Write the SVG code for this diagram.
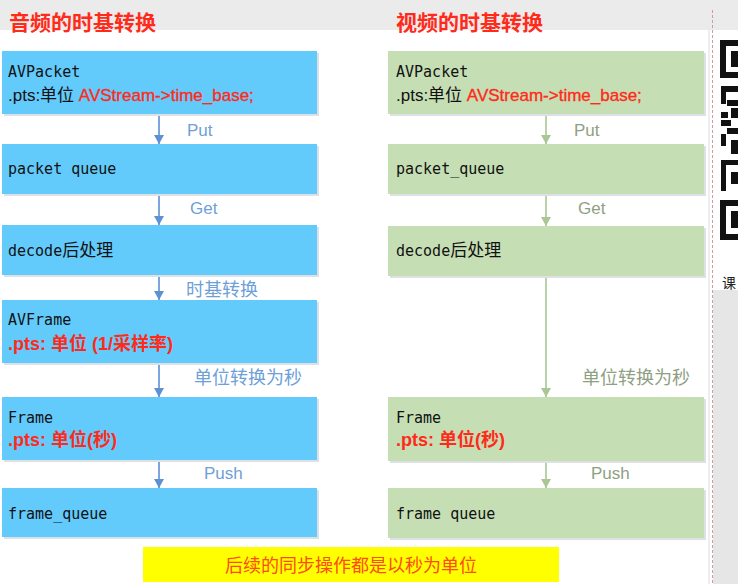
<svg xmlns="http://www.w3.org/2000/svg" width="738" height="584" viewBox="0 0 738 584">
<defs>
<style>
.bg{fill:#ebebeb}
.bb{fill:#62cbfc}
.gb{fill:#c5deb4}
.sh{fill:#dde1e5}
.mono{font-family:"DejaVu Sans Mono","Liberation Mono","Noto Sans CJK SC",monospace;font-size:15px;fill:#111}
.sans{font-family:"Liberation Sans","Noto Sans CJK SC",sans-serif;font-size:17px;fill:#111}
.red{fill:#ff2a1a}
.rb{font-family:"Liberation Sans","Noto Sans CJK SC",sans-serif;font-size:18px;font-weight:bold;fill:#ff2a1a}
.title{font-family:"Liberation Sans","Noto Sans CJK SC",sans-serif;font-size:21px;font-weight:bold;fill:#ff2a1a}
.lb{font-family:"Liberation Sans","Noto Sans CJK SC",sans-serif;font-size:17px;fill:#6e9fd8}
.lg{font-family:"Liberation Sans","Noto Sans CJK SC",sans-serif;font-size:17px;fill:#8f9f84}
.cj{font-size:18px}
.ab{stroke:#5e90d4;stroke-width:1.6;fill:none}
.ag{stroke:#a8c794;stroke-width:1.6;fill:none}
.qr{fill:#111}
</style>
<marker id="mb" markerWidth="10" markerHeight="10" refX="9" refY="5" orient="auto" markerUnits="userSpaceOnUse" viewBox="0 0 10 10">
<path d="M0,0 L9,5 L0,10 Z" fill="#5e90d4"/>
</marker>
<marker id="mg" markerWidth="10" markerHeight="10" refX="9" refY="5" orient="auto" markerUnits="userSpaceOnUse" viewBox="0 0 10 10">
<path d="M0,0 L9,5 L0,10 Z" fill="#a8c794"/>
</marker>
</defs>

<!-- screenshot background -->
<rect x="0" y="0" width="738" height="584" fill="#ffffff"/>
<rect class="bg" x="0" y="0" width="738" height="30"/>
<line x1="709" y1="30" x2="709" y2="584" stroke="#dcdcdc" stroke-width="1"/>
<rect x="713" y="290" width="25" height="294" fill="#e6e6e6"/>
<line x1="712.5" y1="10" x2="712.5" y2="584" stroke="#d29aa0" stroke-width="1" stroke-dasharray="3 2"/>

<!-- QR fragment -->
<g id="qr">
<rect class="qr" x="720" y="40" width="18" height="6"/>
<rect class="qr" x="720" y="40" width="6" height="38"/>
<rect class="qr" x="720" y="72" width="18" height="6"/>
<rect class="qr" x="731" y="51" width="7" height="16"/>
<rect class="qr" x="721" y="86" width="17" height="6"/>
<rect class="qr" x="721" y="92" width="5" height="12"/>
<rect class="qr" x="727" y="100" width="11" height="6"/>
<rect class="qr" x="731" y="108" width="7" height="10"/>
<rect class="qr" x="721" y="112" width="7" height="6"/>
<rect class="qr" x="721" y="120" width="10" height="6"/>
<rect class="qr" x="727" y="128" width="11" height="6"/>
<rect class="qr" x="721" y="134" width="5" height="12"/>
<rect class="qr" x="731" y="140" width="7" height="14"/>
<rect class="qr" x="721" y="160" width="17" height="5"/>
<rect class="qr" x="721" y="165" width="5" height="26"/>
<rect class="qr" x="731" y="172" width="7" height="12"/>
<rect class="qr" x="720" y="200" width="18" height="6"/>
<rect class="qr" x="720" y="200" width="6" height="40"/>
<rect class="qr" x="720" y="234" width="18" height="6"/>
<rect class="qr" x="731" y="211" width="7" height="17"/>
<text x="722" y="288" font-family="'Noto Sans CJK SC',sans-serif" font-size="14" fill="#222">课</text>
</g>

<!-- titles -->
<text class="title" x="9" y="30">音频的时基转换</text>
<text class="title" x="396" y="30">视频的时基转换</text>

<!-- connectors -->
<g id="connectors">
<line class="ab" x1="159" y1="114" x2="159" y2="144" marker-end="url(#mb)"/>
<line class="ab" x1="159" y1="194" x2="159" y2="225" marker-end="url(#mb)"/>
<line class="ab" x1="159" y1="275" x2="159" y2="300" marker-end="url(#mb)"/>
<line class="ab" x1="159" y1="363" x2="159" y2="397" marker-end="url(#mb)"/>
<line class="ab" x1="159" y1="460" x2="159" y2="488" marker-end="url(#mb)"/>
<line class="ag" x1="546" y1="114" x2="546" y2="144" marker-end="url(#mg)"/>
<line class="ag" x1="546" y1="194" x2="546" y2="226" marker-end="url(#mg)"/>
<line class="ag" x1="546" y1="276" x2="546" y2="397" marker-end="url(#mg)"/>
<line class="ag" x1="546" y1="461" x2="546" y2="488" marker-end="url(#mg)"/>
<text class="lb" x="187" y="136">Put</text>
<text class="lb" x="190" y="214">Get</text>
<text class="lb cj" x="186" y="296">时基转换</text>
<text class="lb cj" x="194" y="384">单位转换为秒</text>
<text class="lb" x="204" y="479">Push</text>
<text class="lg" x="574" y="136">Put</text>
<text class="lg" x="578" y="214">Get</text>
<text class="lg cj" x="582" y="384">单位转换为秒</text>
<text class="lg" x="591" y="479">Push</text>
</g>

<!-- audio column -->
<g id="a_avpacket">
<rect class="sh" x="4" y="53" width="315" height="63"/>
<rect class="bb" x="2" y="51" width="315" height="63"/>
<text class="mono" x="8" y="77">AVPacket</text>
<text class="sans" x="8" y="101">.pts:单位 <tspan class="red" stroke="#ff2a1a" stroke-width="0.35">AVStream-&gt;time_base;</tspan></text>
</g>
<g id="a_packet_queue">
<rect class="sh" x="4" y="146" width="315" height="50"/>
<rect class="bb" x="2" y="144" width="315" height="50"/>
<text class="mono" x="8" y="174">packet queue</text>
</g>
<g id="a_decode">
<rect class="sh" x="4" y="227" width="315" height="50"/>
<rect class="bb" x="2" y="225" width="315" height="50"/>
<text class="mono" x="8" y="256">decode<tspan font-size="17">后处理</tspan></text>
</g>
<g id="a_avframe">
<rect class="sh" x="4" y="302" width="315" height="63"/>
<rect class="bb" x="2" y="300" width="315" height="63"/>
<text class="mono" x="8" y="325">AVFrame</text>
<text class="rb" x="8" y="350">.pts: 单位 (1/采样率)</text>
</g>
<g id="a_frame">
<rect class="sh" x="4" y="399" width="315" height="63"/>
<rect class="bb" x="2" y="397" width="315" height="63"/>
<text class="mono" x="8" y="423">Frame</text>
<text class="rb" x="8" y="446">.pts: 单位(秒)</text>
</g>
<g id="a_frame_queue">
<rect class="sh" x="4" y="490" width="315" height="49"/>
<rect class="bb" x="2" y="488" width="315" height="49"/>
<text class="mono" x="8" y="519">frame_queue</text>
</g>

<!-- video column -->
<g id="v_avpacket">
<rect class="sh" x="390" y="53" width="316" height="63"/>
<rect class="gb" x="388" y="51" width="316" height="63"/>
<text class="mono" x="396" y="77">AVPacket</text>
<text class="sans" x="396" y="101">.pts:单位 <tspan class="red" stroke="#ff2a1a" stroke-width="0.35">AVStream-&gt;time_base;</tspan></text>
</g>
<g id="v_packet_queue">
<rect class="sh" x="390" y="146" width="316" height="50"/>
<rect class="gb" x="388" y="144" width="316" height="50"/>
<text class="mono" x="396" y="174">packet_queue</text>
</g>
<g id="v_decode">
<rect class="sh" x="390" y="228" width="316" height="50"/>
<rect class="gb" x="388" y="226" width="316" height="50"/>
<text class="mono" x="396" y="256">decode<tspan font-size="17">后处理</tspan></text>
</g>
<g id="v_frame">
<rect class="sh" x="390" y="399" width="316" height="64"/>
<rect class="gb" x="388" y="397" width="316" height="64"/>
<text class="mono" x="396" y="423">Frame</text>
<text class="rb" x="396" y="446">.pts: 单位(秒)</text>
</g>
<g id="v_frame_queue">
<rect class="sh" x="390" y="490" width="316" height="50"/>
<rect class="gb" x="388" y="488" width="316" height="50"/>
<text class="mono" x="396" y="519">frame queue</text>
</g>

<!-- note -->
<g id="note">
<rect x="143" y="547" width="416" height="35" fill="#ffff00"/>
<text x="351" y="572" text-anchor="middle" font-family="'Noto Sans CJK SC',sans-serif" font-size="18" fill="#ff4a10">后续的同步操作都是以秒为单位</text>
</g>
</svg>
